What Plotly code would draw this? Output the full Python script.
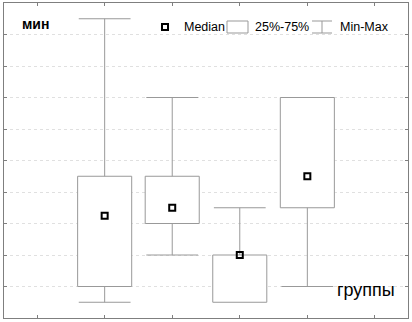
import plotly.graph_objects as go

# ---- data ----
groups = [1, 2, 3, 4]
mins = [0.5, 2.0, 0.5, 1.0]
q1s = [1.0, 3.0, 0.5, 3.5]
medians = [3.25, 3.5, 2.0, 4.5]
q3s = [4.5, 4.5, 2.0, 7.0]
maxs = [9.5, 7.0, 3.5, 7.0]
x_ticks = [0, 1, 2, 3, 4, 5]
y_ticks = list(range(0, 11))

W, H = 412, 322
L, R, T, B = 4, 4, 3, 4
PW, PH = W - L - R, H - T - B

def px(x):
    return (x - L) / PW

def py(y):
    return (H - B - y) / PH

BOX_COL = "#999999"
FRAME_COL = "#7f7f7f"

fig = go.Figure()

# whiskers
wx, wy = [], []
for g, lo, a, b, hi in zip(groups, mins, q1s, q3s, maxs):
    wx += [g, g, None, g, g, None]
    wy += [lo, a, None, b, hi, None]
fig.add_trace(go.Scatter(x=wx, y=wy, mode="lines", line=dict(color=BOX_COL, width=1),
                         showlegend=False, hoverinfo="skip"))
# caps
cap_x, cap_y = [], []
for g, lo, a, b, hi in zip(groups, mins, q1s, q3s, maxs):
    if lo < a:
        cap_x.append(g); cap_y.append(lo)
    if hi > b:
        cap_x.append(g); cap_y.append(hi)
fig.add_trace(go.Scatter(x=cap_x, y=cap_y, mode="markers",
                         marker=dict(symbol="line-ew", size=37, line=dict(color=BOX_COL, width=1)),
                         showlegend=False, hoverinfo="skip"))
# boxes
fig.add_trace(go.Bar(x=groups, y=[b - a for a, b in zip(q1s, q3s)], base=q1s, width=0.8,
                     marker=dict(color="white", line=dict(color=BOX_COL, width=1)),
                     showlegend=False, hoverinfo="skip"))
# medians
fig.add_trace(go.Scatter(x=groups, y=medians, mode="markers",
                         marker=dict(symbol="square-open", size=6, color="black",
                                     line=dict(color="black", width=2)),
                         showlegend=False))

axis_common = dict(showline=True, linecolor=FRAME_COL, linewidth=1, mirror="ticks",
                   ticks="inside", ticklen=3, tickcolor=FRAME_COL, showticklabels=False,
                   zeroline=False)
fig.update_xaxes(range=[-0.49, 5.49], tickvals=x_ticks, showgrid=False, **axis_common)
fig.update_yaxes(range=[0, 10], tickvals=y_ticks, showgrid=True, gridcolor="#e0e0e0",
                 griddash="dot", gridwidth=1, **axis_common)

shapes = []
annotations = []
font = dict(family="Liberation Sans, Arial, sans-serif", size=12.5, color="black")

# legend: median marker
fig.add_trace(go.Scatter(x=[px(165)], y=[py(27)], xaxis="x2", yaxis="y2", mode="markers",
                         marker=dict(symbol="square-open", size=6, color="black",
                                     line=dict(color="black", width=2)),
                         showlegend=False, hoverinfo="skip"))
fig.update_layout(xaxis2=dict(range=[0, 1], visible=False, overlaying="x"),
                  yaxis2=dict(range=[0, 1], visible=False, overlaying="y"))
annotations.append(dict(x=px(182), y=py(27), xref="paper", yref="paper", text="Median",
                        showarrow=False, xanchor="left", yanchor="middle", font=font))
# legend: box
shapes.append(dict(type="rect", xref="paper", yref="paper", x0=px(227), x1=px(248),
                   y0=py(33), y1=py(21), line=dict(color=BOX_COL, width=1), fillcolor="white"))
annotations.append(dict(x=px(253), y=py(27), xref="paper", yref="paper", text="25%-75%",
                        showarrow=False, xanchor="left", yanchor="middle", font=font))
# legend: min-max
for (x0, y0, x1, y1) in [(312, 21, 332, 21), (322, 21, 322, 33), (312, 33, 332, 33)]:
    shapes.append(dict(type="line", xref="paper", yref="paper", x0=px(x0), x1=px(x1),
                       y0=py(y0), y1=py(y1), line=dict(color=BOX_COL, width=1)))
annotations.append(dict(x=px(338), y=py(27), xref="paper", yref="paper", text="Min-Max",
                        showarrow=False, xanchor="left", yanchor="middle", font=font))

annotations.append(dict(x=px(20), y=py(24), xref="paper", yref="paper", text="<b>мин</b>",
                        showarrow=False, xanchor="left", yanchor="middle",
                        font=dict(family="Liberation Sans, Arial, sans-serif", size=14, color="black")))
annotations.append(dict(x=px(335), y=py(290), xref="paper", yref="paper", text="группы",
                        showarrow=False, xanchor="left", yanchor="middle",
                        font=dict(family="Liberation Sans, Arial, sans-serif", size=18, color="black")))

fig.update_layout(width=W, height=H, margin=dict(l=L, r=R, t=T, b=B, pad=0),
                  paper_bgcolor="white", plot_bgcolor="white", showlegend=False,
                  shapes=shapes, annotations=annotations, barmode="overlay")

fig.write_html("out.html", config={"displayModeBar": False},
               post_script="document.body.style.margin='0';document.body.style.overflow='hidden';")
